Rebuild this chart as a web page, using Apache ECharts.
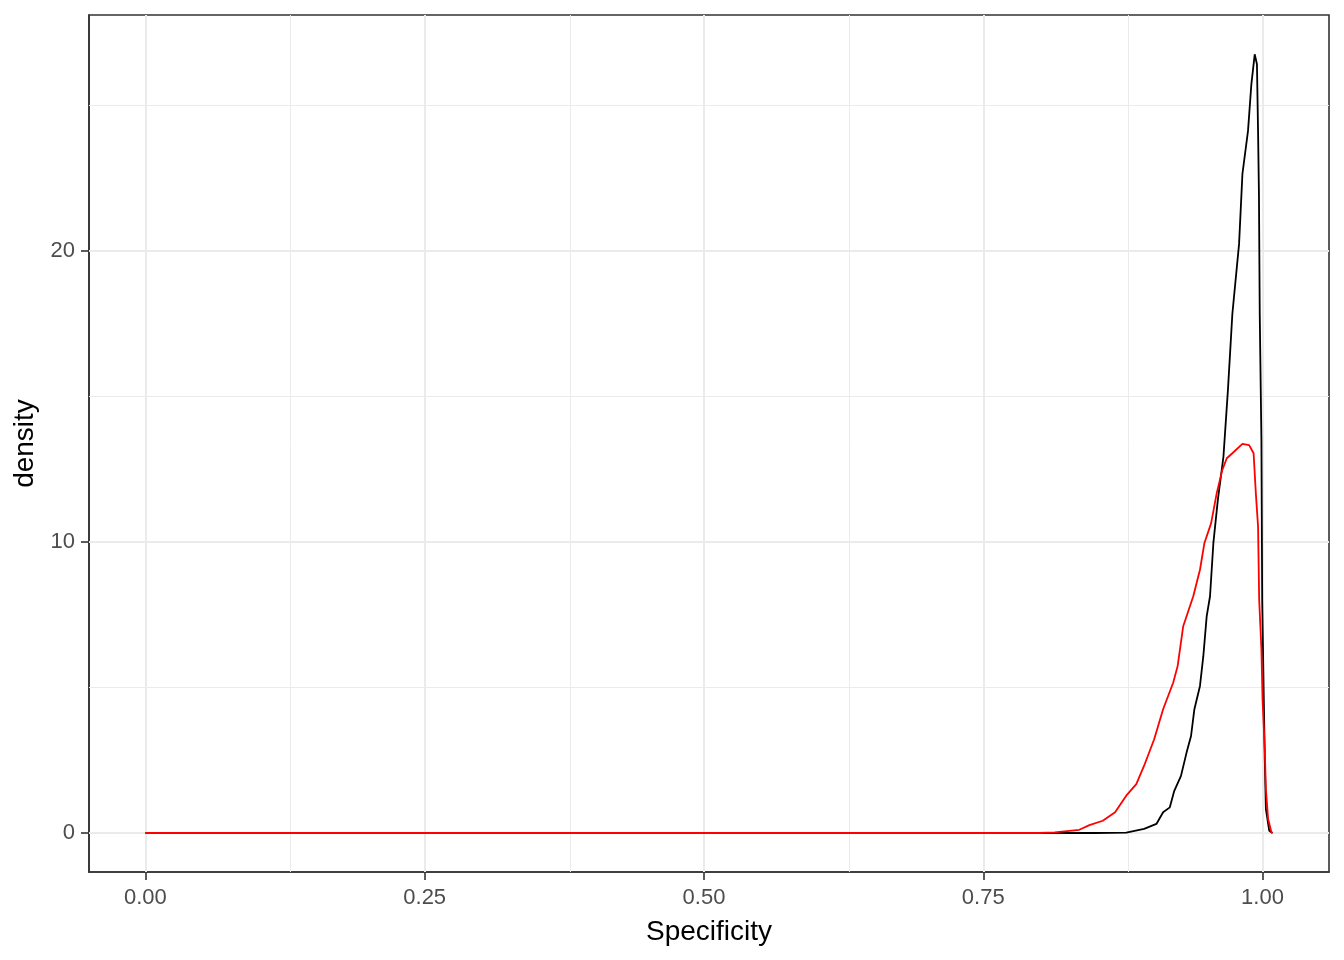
<!DOCTYPE html>
<html>
<head>
<meta charset="utf-8">
<script src="https://cdn.jsdelivr.net/npm/echarts@6/dist/echarts.min.js"></script>
<style>
  html, body { margin: 0; padding: 0; background: #fff; }
  #main { width: 1344px; height: 960px; }
</style>
</head>
<body>
<div id="main"></div>
<script>
// density curves
const specBlack = [0, 0.85, 0.878, 0.894, 0.905, 0.911, 0.917, 0.921, 0.927, 0.932, 0.936, 0.939, 0.944, 0.947, 0.950, 0.953, 0.956, 0.960, 0.965, 0.969, 0.973, 0.979, 0.982, 0.987, 0.990, 0.993, 0.995, 0.996, 0.9968, 0.9975, 0.999, 0.9997, 1.002, 1.003, 1.006, 1.009]
const densBlack = [0, 0, 0.01, 0.14, 0.31, 0.71, 0.88, 1.45, 1.96, 2.76, 3.33, 4.25, 5.05, 6.07, 7.44, 8.13, 9.96, 11.44, 12.92, 15.2, 17.83, 20.23, 22.63, 24.11, 25.71, 26.74, 26.4, 24.1, 21.9, 17.83, 13.5, 8.0, 2.53, 0.82, 0.08, 0]

const specRed = [0, 0.80, 0.814, 0.836, 0.845, 0.857, 0.868, 0.878, 0.887, 0.894, 0.903, 0.911, 0.920, 0.924, 0.929, 0.938, 0.944, 0.948, 0.954, 0.959, 0.964, 0.968, 0.973, 0.982, 0.988, 0.992, 0.994, 0.996, 0.997, 0.999, 1.000, 1.002, 1.003, 1.005, 1.008, 1.009]
const densRed = [0, 0, 0.02, 0.11, 0.27, 0.42, 0.71, 1.28, 1.68, 2.31, 3.22, 4.25, 5.16, 5.73, 7.10, 8.13, 9.04, 9.96, 10.64, 11.67, 12.47, 12.87, 13.04, 13.36, 13.32, 13.04, 11.67, 10.52, 8.01, 6.30, 4.59, 2.88, 1.51, 0.48, 0.02, 0]

const xTicks = [0, 0.25, 0.5, 0.75, 1]
const xMinor = [0.125, 0.375, 0.625, 0.875]
const yTicks = [0, 10, 20]
const yMinor = [5, 15, 25]

const font = 'Liberation Sans, Arial, sans-serif'
const pairs = (xs, ys) => xs.map((x, i) => [x, ys[i]])

const gridLines = []
xMinor.forEach(v => gridLines.push({ xAxis: v, lineStyle: { width: 1 } }))
yMinor.forEach(v => gridLines.push({ yAxis: v, lineStyle: { width: 1 } }))
xTicks.forEach(v => gridLines.push({ xAxis: v, lineStyle: { width: 2 } }))
yTicks.forEach(v => gridLines.push({ yAxis: v, lineStyle: { width: 2 } }))

const tickStyle = { show: true, inside: false, length: 8, lineStyle: { color: '#333333', width: 1.6 } }

const option = {
  animation: false,
  backgroundColor: '#ffffff',
  grid: {
    left: 89, top: 15, width: 1240, height: 857,
    show: true, borderColor: '#333333', borderWidth: 1.6, backgroundColor: 'transparent'
  },
  xAxis: {
    type: 'value',
    min: -0.0505, max: 1.0595,
    name: 'Specificity',
    nameLocation: 'middle',
    nameGap: 46,
    nameTextStyle: { fontFamily: font, fontSize: 28, color: '#000000' },
    axisLine: { show: true, onZero: false, lineStyle: { color: '#333333', width: 1.6 } },
    axisTick: Object.assign({ customValues: xTicks }, tickStyle),
    axisLabel: {
      customValues: xTicks, margin: 15, fontFamily: font, fontSize: 22, color: '#4d4d4d',
      formatter: v => v.toFixed(2)
    },
    splitLine: { show: false }
  },
  yAxis: {
    type: 'value',
    min: -1.34, max: 28.09,
    name: 'density',
    nameLocation: 'middle',
    nameGap: 50,
    nameRotate: 90,
    nameTextStyle: { fontFamily: font, fontSize: 28, color: '#000000' },
    axisLine: { show: true, onZero: false, lineStyle: { color: '#333333', width: 1.6 } },
    axisTick: Object.assign({ customValues: yTicks }, tickStyle),
    axisLabel: { customValues: yTicks, margin: 14, fontFamily: font, fontSize: 22, color: '#4d4d4d' },
    splitLine: { show: false }
  },
  series: [
    {
      type: 'line', data: [], z: 1, silent: true,
      markLine: {
        z: 1, silent: true, symbol: 'none', label: { show: false },
        lineStyle: { color: '#ebebeb', type: 'solid' },
        animation: false,
        data: gridLines
      }
    },
    {
      type: 'line', data: pairs(specBlack, densBlack), z: 6,
      showSymbol: false, lineStyle: { color: '#000000', width: 1.8 }
    },
    {
      type: 'line', data: pairs(specRed, densRed), z: 7,
      showSymbol: false, lineStyle: { color: '#ff0000', width: 1.8 }
    }
  ]
}

echarts.init(document.getElementById('main')).setOption(option)
</script>
</body>
</html>
